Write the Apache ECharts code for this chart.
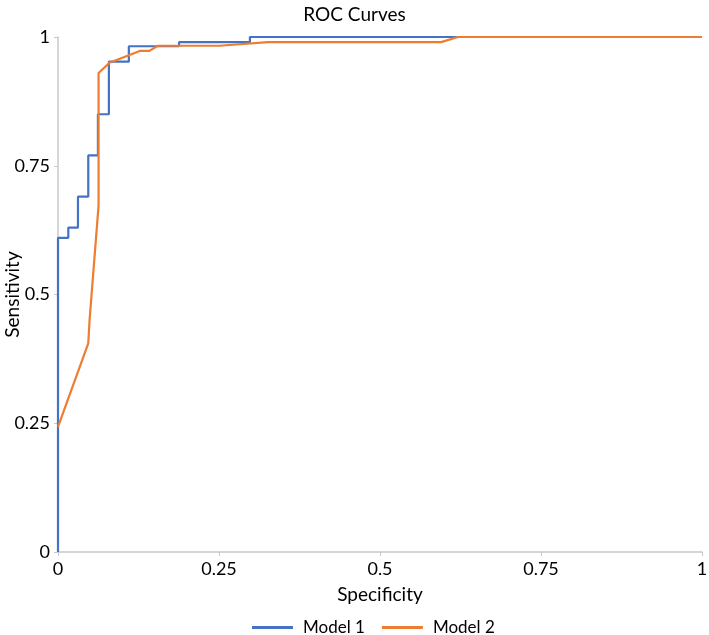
<!DOCTYPE html>
<html>
<head>
<meta charset="utf-8">
<script src="https://cdn.jsdelivr.net/npm/echarts@6/dist/echarts.min.js"></script>
<style>html,body{margin:0;padding:0;background:#fff;}#c{width:709px;height:635px;}</style>
</head>
<body>
<div id="c"></div>
<script>
const seriesNames = ['Model 1', 'Model 2'];
const tickValues = [0, 0.25, 0.5, 0.75, 1];
const model1Spec = [0, 0, 0.016, 0.016, 0.031, 0.031, 0.047, 0.047, 0.062, 0.062, 0.079, 0.079, 0.11, 0.11, 0.188, 0.188, 0.298, 0.298, 1];
const model1Sens = [0, 0.61, 0.61, 0.63, 0.63, 0.69, 0.69, 0.77, 0.77, 0.85, 0.85, 0.952, 0.952, 0.982, 0.982, 0.99, 0.99, 1, 1];
const model2Spec = [0, 0.047, 0.049, 0.063, 0.063, 0.08, 0.127, 0.142, 0.155, 0.251, 0.326, 0.595, 0.621, 1];
const model2Sens = [0.243, 0.405, 0.45, 0.673, 0.93, 0.95, 0.973, 0.973, 0.983, 0.983, 0.99, 0.99, 1, 1];

const zip = (a, b) => a.map((v, i) => [v, b[i]]);
const font = 'Lato, "Open Sans", sans-serif';
const chart = echarts.init(document.getElementById('c'));
const axisCommon = {
  type: 'value', min: 0, max: 1, interval: 0.25,
  splitLine: { show: false },
  axisLine: { show: true, lineStyle: { color: '#c8c8c8', width: 1.5 } },
  axisTick: { show: true, length: 4, lineStyle: { color: '#c8c8c8' } },
  axisLabel: { color: '#000', fontSize: 18, fontFamily: font, formatter: v => tickValues.includes(v) ? String(v) : '' },
  nameTextStyle: { color: '#000', fontSize: 19, fontFamily: font },
  nameMoveOverlap: false
};
chart.setOption({
  animation: false,
  title: { text: 'ROC Curves', left: 'center', top: 0, textStyle: { fontSize: 19, fontWeight: 'normal', color: '#000', fontFamily: font } },
  grid: { left: 58, right: 7, top: 37, bottom: 83, containLabel: false, outerBoundsMode: 'none' },
  xAxis: Object.assign({}, axisCommon, { name: 'Specificity', nameLocation: 'middle', nameGap: 33, axisLabel: Object.assign({}, axisCommon.axisLabel, { margin: 8 }) }),
  yAxis: Object.assign({}, axisCommon, { name: 'Sensitivity', nameLocation: 'middle', nameGap: 36, axisLabel: Object.assign({}, axisCommon.axisLabel, { margin: 8 }) }),
  legend: {
    bottom: -6, left: 247, itemWidth: 41, itemHeight: 3, itemGap: 17,
    icon: 'rect',
    textStyle: { fontSize: 17, color: '#000', fontFamily: font, padding: [0, 0, 0, 5] },
    data: seriesNames
  },
  series: [
    { name: seriesNames[0], type: 'line', data: zip(model1Spec, model1Sens), symbol: 'none', lineStyle: { color: '#4472C4', width: 2.2 }, itemStyle: { color: '#4472C4' } },
    { name: seriesNames[1], type: 'line', data: zip(model2Spec, model2Sens), symbol: 'none', lineStyle: { color: '#ED7D31', width: 2.2 }, itemStyle: { color: '#ED7D31' } }
  ]
});
</script>
</body>
</html>
